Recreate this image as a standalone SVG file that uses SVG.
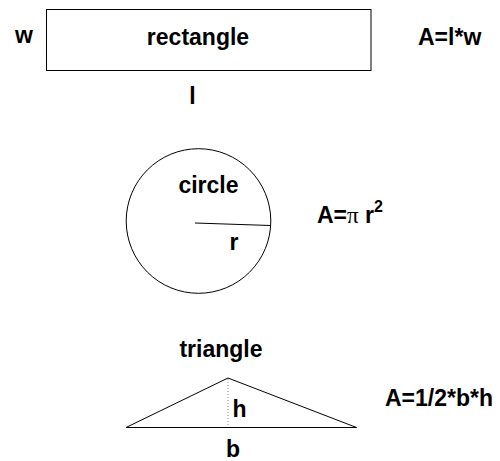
<svg xmlns="http://www.w3.org/2000/svg" width="500" height="461" viewBox="0 0 500 461">
<style>
text{font-family:"Liberation Sans",Arial,sans-serif;font-weight:bold;font-size:23px;fill:#000}
.s{fill:none;stroke:#000;stroke-width:1}
</style>
<rect width="500" height="461" fill="#fff"/>
<g id="rectangle">
<rect class="s" x="46.5" y="9.5" width="324.5" height="61"/>
<text x="198" y="44.5" text-anchor="middle">rectangle</text>
<text x="24" y="43" text-anchor="middle">w</text>
<text x="192.5" y="104" text-anchor="middle">l</text>
<text x="418" y="44.5">A=l*w</text>
</g>
<g id="circle">
<circle class="s" cx="198.5" cy="221" r="72.3"/>
<line class="s" x1="195" y1="223" x2="270.5" y2="225.5"/>
<text x="208.5" y="192.5" text-anchor="middle">circle</text>
<text x="234" y="250" text-anchor="middle">r</text>
<text x="317" y="223">A=<tspan font-family="'Liberation Serif',serif" font-weight="normal">π</tspan> r<tspan font-size="16" dy="-11">2</tspan></text>
</g>
<g id="triangle">
<polygon class="s" points="126,427.5 228,378 356.5,427.5"/>
<line x1="228" y1="379" x2="228" y2="427" stroke="#888" stroke-width="1" stroke-dasharray="1,2"/>
<text x="221" y="357" text-anchor="middle">triangle</text>
<text x="239.5" y="417" text-anchor="middle">h</text>
<text x="233" y="457" text-anchor="middle">b</text>
<text x="385" y="406">A=1/2*b*h</text>
</g>
</svg>
